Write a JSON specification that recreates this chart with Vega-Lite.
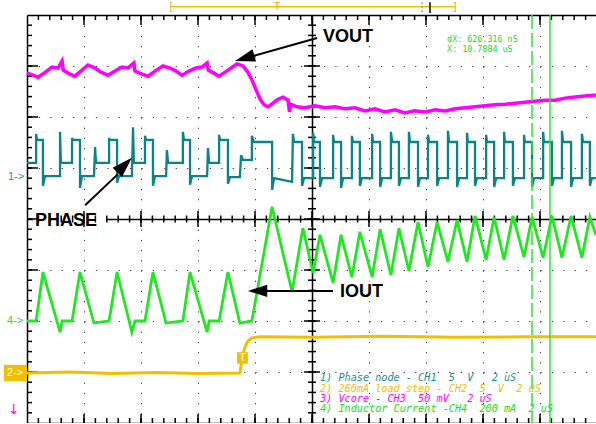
{
"$schema":"https://vega.github.io/schema/vega-lite/v6.json",
"width":570,"height":408,
"autosize":{"type":"none"},
"padding":{"left":27,"top":15,"right":0,"bottom":0},
"background":"#ffffff",
"config":{"view":{"stroke":null},"axis":{"labels":false,"grid":false,"ticks":false,"domainColor":"#000000","domainWidth":1.5}},
"resolve":{"axis":{"x":"independent","y":"independent"}},
"datasets":{
"xminor":[{"t":0.4},{"t":0.8},{"t":1.2},{"t":1.6},{"t":2},{"t":2.4},{"t":2.8},{"t":3.2},{"t":3.6},{"t":4},{"t":4.4},{"t":4.8},{"t":5.2},{"t":5.6},{"t":6},{"t":6.4},{"t":6.8},{"t":7.2},{"t":7.6},{"t":8},{"t":8.4},{"t":8.8},{"t":9.2},{"t":9.6},{"t":10},{"t":10.4},{"t":10.8},{"t":11.2},{"t":11.6},{"t":12},{"t":12.4},{"t":12.8},{"t":13.2},{"t":13.6},{"t":14},{"t":14.4},{"t":14.8},{"t":15.2},{"t":15.6},{"t":16},{"t":16.4},{"t":16.8},{"t":17.2},{"t":17.6},{"t":18},{"t":18.4},{"t":18.8},{"t":19.2},{"t":19.6}],
"xmajor":[{"t":2},{"t":4},{"t":6},{"t":8},{"t":10},{"t":12},{"t":14},{"t":16},{"t":18}],
"yminor":[{"y":-3.8},{"y":-3.6},{"y":-3.4},{"y":-3.2},{"y":-3},{"y":-2.8},{"y":-2.6},{"y":-2.4},{"y":-2.2},{"y":-2},{"y":-1.8},{"y":-1.6},{"y":-1.4},{"y":-1.2},{"y":-1},{"y":-0.8},{"y":-0.6},{"y":-0.4},{"y":-0.2},{"y":0},{"y":0.2},{"y":0.4},{"y":0.6},{"y":0.8},{"y":1},{"y":1.2},{"y":1.4},{"y":1.6},{"y":1.8},{"y":2},{"y":2.2},{"y":2.4},{"y":2.6},{"y":2.8},{"y":3},{"y":3.2},{"y":3.4},{"y":3.6},{"y":3.8}],
"ymajor":[{"y":-3},{"y":-2},{"y":-1},{"y":0},{"y":1},{"y":2},{"y":3}]
},
"layer":[
{"data":{"values":[{"t":0.21,"t2":2.77,"y":0.22,"y2":-0.22},{"t":10.28,"t2":12.25,"y":3.78,"y2":3.39},{"t":10.88,"t2":12.6,"y":-1.22,"y2":-1.59}]},
"mark":{"type":"rect","color":"#ffffff"},
"encoding":{"x":{"field":"t","type":"quantitative","scale":{"domain":[0,20],"nice":false,"zero":false},"axis":{"orient":"bottom","values":[2,4,6,8,12,14,16,18],"grid":true,"gridDash":[1.2,9],"gridColor":"#333333","gridWidth":1,"domain":false,"title":null}},"x2":{"field":"t2"},
"y":{"field":"y","type":"quantitative","scale":{"domain":[-4,4],"nice":false,"zero":false},"axis":{"orient":"left","values":[-3,-2,-1,1,2,3],"grid":true,"gridDash":[1.2,10.2],"gridColor":"#333333","gridWidth":1,"domain":false,"title":null}},"y2":{"field":"y2"}}},
{"data":{"name":"xminor"},"mark":{"type":"rule","color":"#000000","strokeWidth":1.5},
"encoding":{"x":{"field":"t","type":"quantitative","scale":{"domain":[0,20],"nice":false,"zero":false},"axis":null},"y":{"datum":4,"type":"quantitative","scale":{"domain":[-4,4],"nice":false,"zero":false},"axis":null},"y2":{"datum":3.902}}},
{"data":{"name":"xmajor"},"mark":{"type":"rule","color":"#000000","strokeWidth":1.5},
"encoding":{"x":{"field":"t","type":"quantitative","scale":{"domain":[0,20],"nice":false,"zero":false},"axis":null},"y":{"datum":4,"type":"quantitative","scale":{"domain":[-4,4],"nice":false,"zero":false},"axis":null},"y2":{"datum":3.804}}},
{"data":{"name":"xminor"},"mark":{"type":"rule","color":"#000000","strokeWidth":1.5},
"encoding":{"x":{"field":"t","type":"quantitative","scale":{"domain":[0,20],"nice":false,"zero":false},"axis":null},"y":{"datum":-4,"type":"quantitative","scale":{"domain":[-4,4],"nice":false,"zero":false},"axis":null},"y2":{"datum":-3.902}}},
{"data":{"name":"xmajor"},"mark":{"type":"rule","color":"#000000","strokeWidth":1.5},
"encoding":{"x":{"field":"t","type":"quantitative","scale":{"domain":[0,20],"nice":false,"zero":false},"axis":null},"y":{"datum":-4,"type":"quantitative","scale":{"domain":[-4,4],"nice":false,"zero":false},"axis":null},"y2":{"datum":-3.824}}},
{"data":{"name":"xminor"},"mark":{"type":"rule","color":"#000000","strokeWidth":1.5},
"encoding":{"x":{"field":"t","type":"quantitative","scale":{"domain":[0,20],"nice":false,"zero":false},"axis":null},"y":{"datum":0.0686,"type":"quantitative","scale":{"domain":[-4,4],"nice":false,"zero":false},"axis":null},"y2":{"datum":-0.0686}}},
{"data":{"values":[{"t":2},{"t":4},{"t":6},{"t":8},{"t":10},{"t":12},{"t":14},{"t":16},{"t":18}]},"mark":{"type":"rule","color":"#000000","strokeWidth":1.5},
"encoding":{"x":{"field":"t","type":"quantitative","scale":{"domain":[0,20],"nice":false,"zero":false},"axis":null},"y":{"datum":0.157,"type":"quantitative","scale":{"domain":[-4,4],"nice":false,"zero":false},"axis":null},"y2":{"datum":-0.157}}},
{"data":{"values":[{"y":-3.8},{"y":-3.6},{"y":-3.4},{"y":-3.2},{"y":-3},{"y":-2.8},{"y":-2.6},{"y":-2.4},{"y":-2.2},{"y":-2},{"y":-1.8},{"y":-1.6},{"y":-1.4},{"y":-1.2},{"y":-1},{"y":-0.8},{"y":-0.6},{"y":-0.4},{"y":-0.2},{"y":0},{"y":0.2},{"y":0.4},{"y":0.6},{"y":0.8},{"y":1},{"y":1.2},{"y":1.4},{"y":1.6},{"y":1.8},{"y":2},{"y":2.2},{"y":2.4},{"y":2.6},{"y":2.8},{"y":3},{"y":3.2},{"y":3.4},{"y":3.6},{"y":3.8}]},"mark":{"type":"rule","color":"#000000","strokeWidth":1.5},
"encoding":{"y":{"field":"y","type":"quantitative","scale":{"domain":[-4,4],"nice":false,"zero":false},"axis":null},"x":{"datum":0,"type":"quantitative","scale":{"domain":[0,20],"nice":false,"zero":false},"axis":null},"x2":{"datum":0.175}}},
{"data":{"name":"ymajor"},"mark":{"type":"rule","color":"#000000","strokeWidth":1.5},
"encoding":{"y":{"field":"y","type":"quantitative","scale":{"domain":[-4,4],"nice":false,"zero":false},"axis":null},"x":{"datum":0,"type":"quantitative","scale":{"domain":[0,20],"nice":false,"zero":false},"axis":null},"x2":{"datum":0.386}}},
{"data":{"name":"yminor"},"mark":{"type":"rule","color":"#000000","strokeWidth":1.5},
"encoding":{"y":{"field":"y","type":"quantitative","scale":{"domain":[-4,4],"nice":false,"zero":false},"axis":null},"x":{"datum":9.86,"type":"quantitative","scale":{"domain":[0,20],"nice":false,"zero":false},"axis":null},"x2":{"datum":10.14}}},
{"data":{"name":"ymajor"},"mark":{"type":"rule","color":"#000000","strokeWidth":1.5},
"encoding":{"y":{"field":"y","type":"quantitative","scale":{"domain":[-4,4],"nice":false,"zero":false},"axis":null},"x":{"datum":9.72,"type":"quantitative","scale":{"domain":[0,20],"nice":false,"zero":false},"axis":null},"x2":{"datum":10.28}}},
{"data":{"values":[{"t":0,"y":2.86},{"t":0.21,"y":2.82},{"t":0.39,"y":2.78},{"t":0.6,"y":2.86},{"t":0.88,"y":2.98},{"t":1.09,"y":2.96},{"t":1.23,"y":3.1},{"t":1.27,"y":2.92},{"t":1.51,"y":2.84},{"t":1.68,"y":2.8},{"t":1.89,"y":2.9},{"t":2.14,"y":3.02},{"t":2.39,"y":2.96},{"t":2.6,"y":2.88},{"t":2.84,"y":2.82},{"t":3.09,"y":2.9},{"t":3.33,"y":2.98},{"t":3.54,"y":2.96},{"t":3.75,"y":3.06},{"t":3.79,"y":2.9},{"t":4.04,"y":2.84},{"t":4.25,"y":2.8},{"t":4.49,"y":2.9},{"t":4.77,"y":3.0},{"t":5.02,"y":2.96},{"t":5.23,"y":2.9},{"t":5.44,"y":2.82},{"t":5.68,"y":2.9},{"t":5.93,"y":2.96},{"t":6.14,"y":2.98},{"t":6.32,"y":3.06},{"t":6.36,"y":2.92},{"t":6.56,"y":2.86},{"t":6.74,"y":2.8},{"t":6.95,"y":2.88},{"t":7.16,"y":2.96},{"t":7.37,"y":3.04},{"t":7.58,"y":3.0},{"t":7.75,"y":2.88},{"t":7.89,"y":2.73},{"t":8.04,"y":2.53},{"t":8.18,"y":2.35},{"t":8.32,"y":2.24},{"t":8.46,"y":2.2},{"t":8.63,"y":2.27},{"t":8.81,"y":2.35},{"t":8.98,"y":2.39},{"t":9.16,"y":2.33},{"t":9.21,"y":2.1},{"t":9.26,"y":2.25},{"t":9.47,"y":2.2},{"t":9.75,"y":2.18},{"t":10.11,"y":2.22},{"t":10.46,"y":2.18},{"t":10.81,"y":2.2},{"t":11.16,"y":2.16},{"t":11.51,"y":2.18},{"t":11.86,"y":2.12},{"t":12.21,"y":2.16},{"t":12.56,"y":2.1},{"t":12.91,"y":2.14},{"t":13.26,"y":2.08},{"t":13.61,"y":2.12},{"t":13.96,"y":2.1},{"t":14.32,"y":2.14},{"t":14.67,"y":2.12},{"t":15.02,"y":2.16},{"t":15.37,"y":2.18},{"t":15.72,"y":2.2},{"t":16.07,"y":2.22},{"t":16.42,"y":2.24},{"t":16.77,"y":2.25},{"t":17.12,"y":2.27},{"t":17.47,"y":2.29},{"t":17.82,"y":2.31},{"t":18.18,"y":2.33},{"t":18.53,"y":2.33},{"t":18.88,"y":2.37},{"t":19.23,"y":2.39},{"t":19.58,"y":2.41},{"t":19.96,"y":2.43}]},
"mark":{"type":"line","color":"#ff00ff","strokeWidth":3.5},
"encoding":{"x":{"field":"t","type":"quantitative","scale":{"domain":[0,20],"nice":false,"zero":false},"axis":{"orient":"bottom","offset":-408,"values":[0,20],"domain":true,"title":null}},
"y":{"field":"y","type":"quantitative","scale":{"domain":[-4,4],"nice":false,"zero":false},"axis":{"orient":"right","offset":-570,"values":[-4,4],"domain":true,"title":null}}}},
{"data":{"values":[{"t":0,"y":1.1},{"t":0.32,"y":1.1},{"t":0.32,"y":1.67},{"t":0.35,"y":1.55},{"t":0.56,"y":1.55},{"t":0.56,"y":0.65},{"t":0.63,"y":0.84},{"t":1.16,"y":0.84},{"t":1.16,"y":1.71},{"t":1.19,"y":1.1},{"t":1.58,"y":1.1},{"t":1.58,"y":1.59},{"t":1.61,"y":1.55},{"t":1.86,"y":1.55},{"t":1.86,"y":0.61},{"t":1.93,"y":0.84},{"t":2.35,"y":0.84},{"t":2.39,"y":1.41},{"t":2.42,"y":1.1},{"t":2.88,"y":1.1},{"t":2.88,"y":1.59},{"t":2.91,"y":1.55},{"t":3.16,"y":1.55},{"t":3.16,"y":0.71},{"t":3.23,"y":0.84},{"t":3.68,"y":0.84},{"t":3.72,"y":1.8},{"t":3.75,"y":1.1},{"t":4.14,"y":1.1},{"t":4.14,"y":1.63},{"t":4.18,"y":1.55},{"t":4.42,"y":1.55},{"t":4.42,"y":0.65},{"t":4.49,"y":0.84},{"t":4.88,"y":0.84},{"t":4.91,"y":1.35},{"t":4.95,"y":1.1},{"t":5.47,"y":1.1},{"t":5.47,"y":1.71},{"t":5.51,"y":1.55},{"t":5.72,"y":1.55},{"t":5.72,"y":0.67},{"t":5.79,"y":0.84},{"t":6.32,"y":0.84},{"t":6.35,"y":1.39},{"t":6.39,"y":1.1},{"t":6.74,"y":1.1},{"t":6.74,"y":1.65},{"t":6.77,"y":1.55},{"t":7.05,"y":1.55},{"t":7.05,"y":0.69},{"t":7.12,"y":0.82},{"t":7.47,"y":0.82},{"t":7.51,"y":1.25},{"t":7.58,"y":1.16},{"t":7.89,"y":1.16},{"t":7.89,"y":1.63},{"t":7.96,"y":1.51},{"t":8.6,"y":1.51},{"t":8.6,"y":0.57},{"t":8.67,"y":0.8},{"t":9.3,"y":0.73},
{"t":9.33,"y":1.67},{"t":9.37,"y":1.51},{"t":9.65,"y":1.51},{"t":9.65,"y":0.65},{"t":9.72,"y":0.8},
{"t":10.04,"y":0.8},{"t":10.04,"y":1.69},{"t":10.07,"y":1.51},{"t":10.28,"y":1.51},{"t":10.28,"y":0.63},{"t":10.35,"y":0.8},
{"t":10.74,"y":0.8},{"t":10.74,"y":1.65},{"t":10.77,"y":1.51},{"t":11.02,"y":1.51},{"t":11.02,"y":0.61},{"t":11.09,"y":0.8},
{"t":11.4,"y":0.8},{"t":11.4,"y":1.63},{"t":11.44,"y":1.51},{"t":11.68,"y":1.51},{"t":11.68,"y":0.65},{"t":11.75,"y":0.8},
{"t":12.11,"y":0.8},{"t":12.11,"y":1.67},{"t":12.14,"y":1.51},{"t":12.39,"y":1.51},{"t":12.39,"y":0.63},{"t":12.46,"y":0.8},
{"t":12.77,"y":0.8},{"t":12.77,"y":1.71},{"t":12.81,"y":1.51},{"t":13.05,"y":1.51},{"t":13.05,"y":0.65},{"t":13.12,"y":0.8},
{"t":13.4,"y":0.8},{"t":13.4,"y":1.71},{"t":13.44,"y":1.51},{"t":13.72,"y":1.51},{"t":13.72,"y":0.63},{"t":13.79,"y":0.8},
{"t":14.07,"y":0.8},{"t":14.07,"y":1.65},{"t":14.11,"y":1.51},{"t":14.39,"y":1.51},{"t":14.39,"y":0.65},{"t":14.46,"y":0.8},
{"t":14.77,"y":0.8},{"t":14.77,"y":1.73},{"t":14.81,"y":1.51},{"t":15.09,"y":1.51},{"t":15.09,"y":0.63},{"t":15.16,"y":0.8},
{"t":15.44,"y":0.8},{"t":15.44,"y":1.69},{"t":15.47,"y":1.51},{"t":15.72,"y":1.51},{"t":15.72,"y":0.65},{"t":15.79,"y":0.8},
{"t":16.11,"y":0.8},{"t":16.11,"y":1.65},{"t":16.14,"y":1.51},{"t":16.39,"y":1.51},{"t":16.39,"y":0.63},{"t":16.46,"y":0.8},
{"t":16.74,"y":0.8},{"t":16.74,"y":1.71},{"t":16.77,"y":1.51},{"t":17.05,"y":1.51},{"t":17.05,"y":0.65},{"t":17.12,"y":0.8},
{"t":17.44,"y":0.8},{"t":17.44,"y":1.65},{"t":17.47,"y":1.51},{"t":17.72,"y":1.51},{"t":17.72,"y":0.63},{"t":17.79,"y":0.8},
{"t":18.11,"y":0.8},{"t":18.11,"y":1.71},{"t":18.14,"y":1.51},{"t":18.42,"y":1.51},{"t":18.42,"y":0.65},{"t":18.49,"y":0.8},
{"t":18.77,"y":0.8},{"t":18.77,"y":1.73},{"t":18.81,"y":1.51},{"t":19.09,"y":1.51},{"t":19.09,"y":0.63},{"t":19.16,"y":0.8},
{"t":19.47,"y":0.8},{"t":19.47,"y":1.67},{"t":19.51,"y":1.51},{"t":19.75,"y":1.51},{"t":19.75,"y":0.65},{"t":19.82,"y":0.8},{"t":19.96,"y":0.8}]},
"mark":{"type":"line","color":"#0a8585","strokeWidth":2.3},
"encoding":{"x":{"field":"t","type":"quantitative","scale":{"domain":[0,20],"nice":false,"zero":false},"axis":{"orient":"top","offset":-408,"values":[0,20],"domain":true,"title":null}},
"y":{"field":"y","type":"quantitative","scale":{"domain":[-4,4],"nice":false,"zero":false},"axis":{"orient":"right","offset":-285,"values":[-4,4],"domain":true,"title":null}},
"order":{"value":null}}},
{"data":{"values":[{"t":0,"y":-2.0},{"t":0.32,"y":-2.0},{"t":0.56,"y":-1.04},{"t":1.16,"y":-2.22},{"t":1.23,"y":-2.0},{"t":1.58,"y":-2.0},{"t":1.86,"y":-1.04},{"t":2.35,"y":-2.04},{"t":2.88,"y":-2.0},{"t":3.16,"y":-1.04},{"t":3.68,"y":-2.22},{"t":3.79,"y":-2.0},{"t":4.14,"y":-2.0},{"t":4.42,"y":-1.04},{"t":4.88,"y":-2.04},{"t":5.47,"y":-2.0},{"t":5.72,"y":-1.04},{"t":6.32,"y":-2.22},{"t":6.39,"y":-2.0},{"t":6.74,"y":-2.0},{"t":7.05,"y":-1.04},{"t":7.47,"y":-2.04},{"t":7.89,"y":-2.0},{"t":8.6,"y":0.24},{"t":9.3,"y":-1.43},{"t":9.68,"y":-0.18},{"t":10.04,"y":-1.06},{"t":10.28,"y":-0.31},{"t":10.74,"y":-1.25},{"t":11.02,"y":-0.31},{"t":11.4,"y":-1.14},{"t":11.68,"y":-0.25},{"t":12.11,"y":-1.14},{"t":12.39,"y":-0.2},{"t":12.77,"y":-1.1},{"t":13.05,"y":-0.18},{"t":13.4,"y":-1.02},{"t":13.72,"y":-0.06},{"t":14.07,"y":-0.94},{"t":14.39,"y":-0.06},{"t":14.77,"y":-0.84},{"t":15.09,"y":-0.02},{"t":15.44,"y":-0.84},{"t":15.72,"y":0.06},{"t":16.11,"y":-0.8},{"t":16.39,"y":0.04},{"t":16.74,"y":-0.8},{"t":17.05,"y":0.06},{"t":17.44,"y":-0.75},{"t":17.72,"y":0.04},{"t":18.11,"y":-0.76},{"t":18.42,"y":0.06},{"t":18.77,"y":-0.76},{"t":19.09,"y":0.06},{"t":19.47,"y":-0.76},{"t":19.75,"y":0.04},{"t":19.96,"y":-0.31}]},
"mark":{"type":"line","color":"#22e622","strokeWidth":2.8},
"encoding":{"x":{"field":"t","type":"quantitative","scale":{"domain":[0,20],"nice":false,"zero":false},"axis":{"orient":"bottom","offset":-204,"values":[0,20],"domain":true,"title":null}},
"y":{"field":"y","type":"quantitative","scale":{"domain":[-4,4],"nice":false,"zero":false},"axis":null}}},
{"data":{"values":[{"t":0,"y":-3.02},{"t":1.5,"y":-3.0},{"t":3.0,"y":-3.03},{"t":4.5,"y":-3.01},{"t":6.0,"y":-3.03},{"t":7.47,"y":-3.02},{"t":7.54,"y":-2.76},{"t":7.65,"y":-2.51},{"t":7.75,"y":-2.39},{"t":7.89,"y":-2.33},{"t":8.18,"y":-2.31},{"t":10.0,"y":-2.32},{"t":12.5,"y":-2.3},{"t":15.0,"y":-2.32},{"t":17.5,"y":-2.31},{"t":19.96,"y":-2.31}]},
"mark":{"type":"line","color":"#f0c000","strokeWidth":3},
"encoding":{"x":{"field":"t","type":"quantitative","scale":{"domain":[0,20],"nice":false,"zero":false},"axis":null},
"y":{"field":"y","type":"quantitative","scale":{"domain":[-4,4],"nice":false,"zero":false},"axis":null}}},
{"data":{"values":[{"t":17.72}]},
"mark":{"type":"rule","color":"#2ee62e","strokeWidth":1.5,"strokeDash":[14,4]},
"encoding":{"x":{"field":"t","type":"quantitative","scale":{"domain":[0,20],"nice":false,"zero":false},"axis":null}}},
{"data":{"values":[{"t":18.35}]},
"mark":{"type":"rule","color":"#2ee62e","strokeWidth":1.5},
"encoding":{"x":{"field":"t","type":"quantitative","scale":{"domain":[0,20],"nice":false,"zero":false},"axis":null}}},
{"data":{"values":[{"t":-0.81,"t2":0,"y":-2.86,"y2":-3.18},{"t":7.37,"t2":7.75,"y":-2.61,"y2":-2.84}]},
"mark":{"type":"rect","color":"#f0c000"},
"encoding":{"x":{"field":"t","type":"quantitative","scale":{"domain":[0,20],"nice":false,"zero":false},"axis":null},"x2":{"field":"t2"},
"y":{"field":"y","type":"quantitative","scale":{"domain":[-4,4],"nice":false,"zero":false},"axis":null},"y2":{"field":"y2"}}},
{"data":{"values":[{"t":10.39,"y":3.47,"label":"VOUT"},{"t":0.28,"y":-0.14,"label":"PHASE"},{"t":10.98,"y":-1.53,"label":"IOUT"}]},
"mark":{"type":"text","font":"Liberation Sans","fontSize":18,"fontWeight":"bold","color":"#000000","align":"left","baseline":"alphabetic"},
"encoding":{"x":{"field":"t","type":"quantitative","scale":{"domain":[0,20],"nice":false,"zero":false},"axis":null},
"y":{"field":"y","type":"quantitative","scale":{"domain":[-4,4],"nice":false,"zero":false},"axis":null},
"text":{"field":"label"}}},
{"data":{"values":[{"t":10.18,"y":3.55,"t2":7.96,"y2":3.2},{"t":2.04,"y":0.27,"t2":3.19,"y2":0.88},{"t":10.74,"y":-1.41,"t2":8.39,"y2":-1.41}]},
"mark":{"type":"rule","color":"#000000","strokeWidth":2},
"encoding":{"x":{"field":"t","type":"quantitative","scale":{"domain":[0,20],"nice":false,"zero":false},"axis":null},"x2":{"field":"t2"},
"y":{"field":"y","type":"quantitative","scale":{"domain":[-4,4],"nice":false,"zero":false},"axis":null},"y2":{"field":"y2"}}},
{"data":{"values":[{"t":7.3,"y":3.1}]},
"mark":{"type":"point","shape":"M0,0L0.32,1L-0.32,1Z","filled":true,"color":"#000000","opacity":1,"size":1600,"angle":254},
"encoding":{"x":{"field":"t","type":"quantitative","scale":{"domain":[0,20],"nice":false,"zero":false},"axis":null},"y":{"field":"y","type":"quantitative","scale":{"domain":[-4,4],"nice":false,"zero":false},"axis":null}}},
{"data":{"values":[{"t":3.68,"y":1.2}]},
"mark":{"type":"point","shape":"M0,0L0.32,1L-0.32,1Z","filled":true,"color":"#000000","opacity":1,"size":1700,"angle":45},
"encoding":{"x":{"field":"t","type":"quantitative","scale":{"domain":[0,20],"nice":false,"zero":false},"axis":null},"y":{"field":"y","type":"quantitative","scale":{"domain":[-4,4],"nice":false,"zero":false},"axis":null}}},
{"data":{"values":[{"t":7.75,"y":-1.41}]},
"mark":{"type":"point","shape":"M0,0L0.32,1L-0.32,1Z","filled":true,"color":"#000000","opacity":1,"size":1500,"angle":270},
"encoding":{"x":{"field":"t","type":"quantitative","scale":{"domain":[0,20],"nice":false,"zero":false},"axis":null},"y":{"field":"y","type":"quantitative","scale":{"domain":[-4,4],"nice":false,"zero":false},"axis":null}}},
{"data":{"values":[{"t":14.74,"y":3.461,"label":"dX: 626.316 nS"},{"t":14.74,"y":3.284,"label":"X: 10.7884 uS"}]},
"mark":{"type":"text","font":"DejaVu Sans Mono","fontSize":8.4,"color":"#1ed81e","align":"left","baseline":"alphabetic"},
"encoding":{"x":{"field":"t","type":"quantitative","scale":{"domain":[0,20],"nice":false,"zero":false},"axis":null},"y":{"field":"y","type":"quantitative","scale":{"domain":[-4,4],"nice":false,"zero":false},"axis":null},"text":{"field":"label"}}},
{"data":{"values":[{"t":10.28,"y":-3.186,"ch":"1","label":"1) Phase node - CH1 \u00a05 \u00a0V \u00a0\u00a02 uS"},{"t":10.28,"y":-3.388,"ch":"2","label":"2) 260mA load step - CH2 \u00a05 \u00a0V \u00a02 uS"},{"t":10.28,"y":-3.59,"ch":"3","label":"3) Vcore - CH3 \u00a050 mV \u00a0\u00a02 uS"},{"t":10.28,"y":-3.792,"ch":"4","label":"4) Inductor Current -CH4 \u00a0200 mA \u00a02 uS"}]},
"mark":{"type":"text","font":"DejaVu Sans Mono","fontSize":10.2,"fontStyle":"italic","align":"left","baseline":"alphabetic"},
"encoding":{"x":{"field":"t","type":"quantitative","scale":{"domain":[0,20],"nice":false,"zero":false},"axis":null},"y":{"field":"y","type":"quantitative","scale":{"domain":[-4,4],"nice":false,"zero":false},"axis":null},"text":{"field":"label"},
"color":{"field":"ch","type":"nominal","scale":{"domain":["1","2","3","4"],"range":["#1a8f8f","#f0c000","#ff00ff","#22dd22"]},"legend":null}}},
{"data":{"values":[{"t":-0.67,"y":0.82,"ch":"1","label":"1->"},{"t":-0.7,"y":-2.0,"ch":"4","label":"4->"}]},
"mark":{"type":"text","font":"Liberation Sans","fontSize":11,"align":"left","baseline":"middle"},
"encoding":{"x":{"field":"t","type":"quantitative","scale":{"domain":[0,20],"nice":false,"zero":false},"axis":null},"y":{"field":"y","type":"quantitative","scale":{"domain":[-4,4],"nice":false,"zero":false},"axis":null},"text":{"field":"label"},
"color":{"field":"ch","type":"nominal","scale":{"domain":["1","2","3","4"],"range":["#1a8f8f","#f0c000","#ff00ff","#22dd22"]},"legend":null}}},
{"data":{"values":[{"t":-0.46,"y":-3.75,"label":"↓"}]},
"mark":{"type":"text","font":"DejaVu Sans","fontSize":14,"color":"#ff00ff","align":"center","baseline":"middle"},
"encoding":{"x":{"field":"t","type":"quantitative","scale":{"domain":[0,20],"nice":false,"zero":false},"axis":null},"y":{"field":"y","type":"quantitative","scale":{"domain":[-4,4],"nice":false,"zero":false},"axis":null},"text":{"field":"label"}}},
{"data":{"values":[{"t":-0.7,"y":-3.02,"label":"2->"},{"t":7.45,"y":-2.73,"label":"T"}]},
"mark":{"type":"text","font":"Liberation Sans","fontSize":11,"color":"#ffffff","align":"left","baseline":"middle"},
"encoding":{"x":{"field":"t","type":"quantitative","scale":{"domain":[0,20],"nice":false,"zero":false},"axis":null},"y":{"field":"y","type":"quantitative","scale":{"domain":[-4,4],"nice":false,"zero":false},"axis":null},"text":{"field":"label"}}},
{"data":{"values":[{"t":5.05,"t2":15.02,"y":4.16}]},
"mark":{"type":"rule","color":"#f0c400","strokeWidth":1.5},
"encoding":{"x":{"field":"t","type":"quantitative","scale":{"domain":[0,20],"nice":false,"zero":false},"axis":null},"x2":{"field":"t2"},"y":{"field":"y","type":"quantitative","scale":{"domain":[-4,4],"nice":false,"zero":false},"axis":null}}},
{"data":{"values":[{"t":14.14,"y":4.25,"y2":4.04}]},
"mark":{"type":"rule","color":"#000000","strokeWidth":1.5},
"encoding":{"x":{"field":"t","type":"quantitative","scale":{"domain":[0,20],"nice":false,"zero":false},"axis":null},"y":{"field":"y","type":"quantitative","scale":{"domain":[-4,4],"nice":false,"zero":false},"axis":null},"y2":{"field":"y2"}}},
{"data":{"values":[{"t":13.86,"y":4.25,"y2":4.04}]},
"mark":{"type":"rule","color":"#999999","strokeWidth":1.5,"strokeDash":[2,2]},
"encoding":{"x":{"field":"t","type":"quantitative","scale":{"domain":[0,20],"nice":false,"zero":false},"axis":null},"y":{"field":"y","type":"quantitative","scale":{"domain":[-4,4],"nice":false,"zero":false},"axis":null},"y2":{"field":"y2"}}},
{"data":{"values":[{"t":5.05,"y":4.16,"label":"["},{"t":15.02,"y":4.16,"label":"]"},{"t":8.77,"y":4.15,"label":"T"}]},
"mark":{"type":"text","font":"Liberation Sans","fontSize":10,"color":"#d8ad00","align":"center","baseline":"middle"},
"encoding":{"x":{"field":"t","type":"quantitative","scale":{"domain":[0,20],"nice":false,"zero":false},"axis":null},"y":{"field":"y","type":"quantitative","scale":{"domain":[-4,4],"nice":false,"zero":false},"axis":null},"text":{"field":"label"}}}
]
}
